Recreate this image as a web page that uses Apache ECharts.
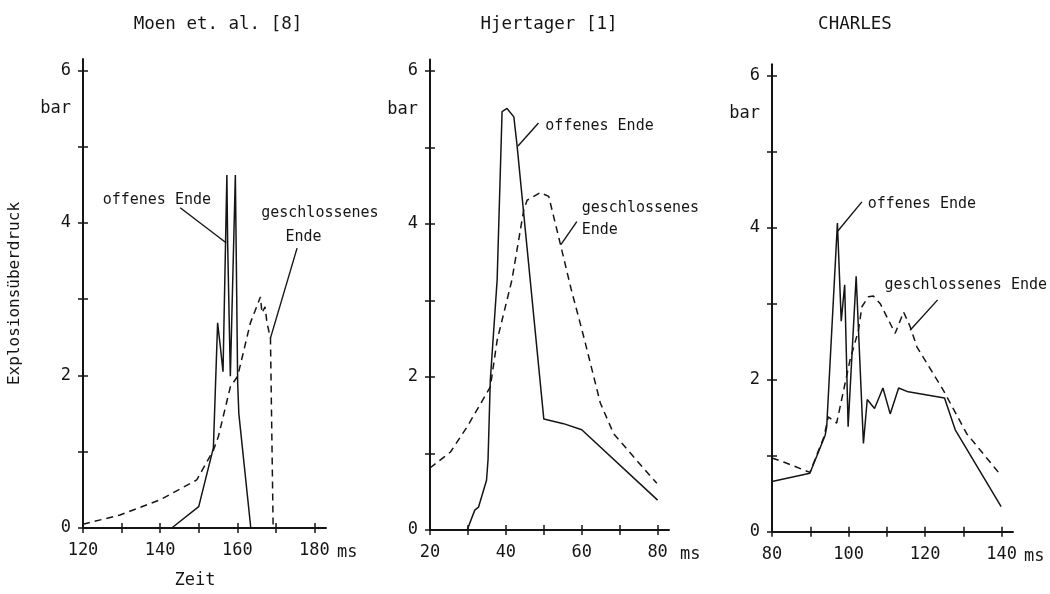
<!DOCTYPE html>
<html>
<head>
<meta charset="utf-8">
<script src="https://cdn.jsdelivr.net/npm/echarts@6/dist/echarts.min.js"></script>
<style>
html,body{margin:0;padding:0;background:#fff;}
#chart{width:1050px;height:594px;}
</style>
</head>
<body>
<div id="chart"></div>
<script>
// ---------- data ----------
const panelTitles = ['Moen et. al. [8]', 'Hjertager [1]', 'CHARLES'];
const xTickValues = [
  [120, 130, 140, 150, 160, 170, 180],
  [20, 30, 40, 50, 60, 70, 80],
  [80, 90, 100, 110, 120, 130, 140]
];
const xLabelValues = [
  [120, 140, 160, 180],
  [20, 40, 60, 80],
  [80, 100, 120, 140]
];
const yTickValues = [0, 1, 2, 3, 4, 5, 6];
const yLabelValues = [0, 2, 4, 5.5, 6];   // 5.5 carries the unit "bar"

// Moen et. al. [8]  (t in ms, p in bar)
const moenOffen = [
  [143.0, 0], [150.0, 0.28], [153.8, 1.05], [154.9, 2.69], [155.6, 2.38], [156.3, 2.05],
  [157.3, 4.63], [157.5, 3.74], [158.2, 1.99], [159.5, 4.63], [160.1, 1.90],
  [160.4, 1.50], [163.5, 0]
];
const moenGeschlossen = [
  [120.0, 0.05], [129.6, 0.17], [140.0, 0.37], [149.5, 0.63], [153.8, 1.02],
  [155.1, 1.20], [158.2, 1.85], [160.1, 1.99], [163.4, 2.69], [166.0, 3.03],
  [166.4, 2.82], [167.2, 2.90], [167.7, 2.69], [168.6, 2.49], [169.3, 0]
];

// Hjertager [1]
const hjertagerOffen = [
  [29.8, 0], [31.8, 0.26], [32.8, 0.30], [34.9, 0.65], [35.3, 0.92], [35.9, 1.96],
  [37.7, 3.27], [39.0, 5.47], [40.3, 5.51], [42.1, 5.40], [42.9, 5.05],
  [50.0, 1.45], [55.2, 1.39], [60.0, 1.31], [80.0, 0.39]
];
const hjertagerGeschlossen = [
  [20.0, 0.81], [25.4, 1.02], [29.8, 1.35], [35.9, 1.87], [37.7, 2.48],
  [41.6, 3.27], [44.7, 4.18], [45.6, 4.31], [49.1, 4.41], [51.3, 4.36],
  [54.3, 3.75], [57.2, 3.15], [60.5, 2.53], [64.9, 1.66], [68.4, 1.26],
  [73.6, 0.96], [79.8, 0.61]
];

// CHARLES
const charlesOffen = [
  [80.0, 0.66], [89.9, 0.77], [93.9, 1.27], [94.3, 1.38], [97.1, 4.06], [98.1, 2.77],
  [99.0, 3.25], [99.9, 1.38], [102.0, 3.36], [103.9, 1.16], [104.9, 1.74],
  [106.8, 1.62], [109.0, 1.89], [110.9, 1.55], [113.1, 1.89], [115.6, 1.84],
  [125.1, 1.76], [127.9, 1.34], [139.9, 0.33]
];
const charlesGeschlossen = [
  [80.0, 0.97], [83.4, 0.91], [89.9, 0.78], [93.6, 1.25], [94.7, 1.51], [96.9, 1.43],
  [100.4, 2.26], [102.6, 2.65], [103.5, 2.96], [105.2, 3.09], [106.5, 3.10],
  [108.3, 3.00], [110.4, 2.79], [112.2, 2.61], [114.4, 2.89], [116.1, 2.70],
  [117.9, 2.43], [124.8, 1.86], [130.9, 1.29], [139.7, 0.75]
];

// annotation texts and leader lines (data coordinates)
const annotTexts = [
  [{ t: 125.1, p: 4.30, text: 'offenes Ende' }],
  [{ t: 50.4, p: 5.28, text: 'offenes Ende' }],
  [{ t: 105.0, p: 4.31, text: 'offenes Ende' }]
];
const annotTextsClosed = [
  [{ t: 166.2, p: 4.13, text: 'geschlossenes' }, { t: 172.5, p: 3.82, text: 'Ende' }],
  [{ t: 60.0, p: 4.07, text: 'geschlossenes\nEnde' }],
  [{ t: 109.4, p: 3.25, text: 'geschlossenes Ende' }]
];
const leaderOpen = [
  [[145.2, 4.20], [157.1, 3.74]],
  [[43.2, 5.02], [48.6, 5.32]],
  [[97.1, 3.95], [103.5, 4.34]]
];
const leaderClosed = [
  [[168.6, 2.49], [175.5, 3.67]],
  [[54.5, 3.73], [58.7, 4.03]],
  [[116.1, 2.65], [123.3, 3.05]]
];

// ---------- layout ----------
const FONT = 'DejaVu Sans Mono';
const INK = '#151515';
const xRange = [[120, 183], [20, 83], [80, 143]];
const yMax = 6.15;
const grids = [
  { left: 83, top: 59, width: 243, height: 469 },
  { left: 430, top: 59.5, width: 239, height: 470.5 },
  { left: 772, top: 64.3, width: 241, height: 467.4 }
];
const titleCenters = [213, 544, 850];
const offenSeries = [moenOffen, hjertagerOffen, charlesOffen];
const geschSeries = [moenGeschlossen, hjertagerGeschlossen, charlesGeschlossen];

const xAxes = [], yAxes = [], series = [], titles = [];

function textPoints(list) {
  return list.map(a => ({ coord: [a.t, a.p], name: a.text }));
}

for (let i = 0; i < 3; i++) {
  titles.push({
    text: panelTitles[i], left: titleCenters[i], top: 10, textAlign: 'center',
    textStyle: { fontFamily: FONT, fontSize: 17.5, fontWeight: 'normal', color: INK }
  });
  // main x axis: outside ticks, labels, unit
  xAxes.push({
    type: 'value', gridIndex: i, min: xRange[i][0], max: xRange[i][1], position: 'bottom',
    axisLine: { onZero: false, lineStyle: { color: INK, width: 2 } },
    axisTick: { customValues: xTickValues[i], length: 5, lineStyle: { color: INK, width: 1.5 } },
    axisLabel: { customValues: xLabelValues[i], margin: 14, fontFamily: FONT, fontSize: 17, color: INK },
    splitLine: { show: false },
    name: '\n\nms', nameLocation: 'end', nameGap: 11,
    nameTextStyle: { fontFamily: FONT, fontSize: 17, color: INK, verticalAlign: 'middle', lineHeight: 25 }
  });
  // secondary x axis: inside half of the crossing ticks
  const sec = {
    type: 'value', gridIndex: i, min: xRange[i][0], max: xRange[i][1], position: 'bottom',
    axisLine: { show: false },
    axisTick: { inside: true, customValues: xTickValues[i], length: 5, lineStyle: { color: INK, width: 1.5 } },
    axisLabel: { show: false },
    splitLine: { show: false }
  };
  if (i === 0) {
    sec.name = 'Zeit';
    sec.nameLocation = 'middle';
    sec.nameGap = 44;
    sec.nameTextStyle = { fontFamily: FONT, fontSize: 17, color: INK, padding: [0, 19, 0, 0] };
  }
  xAxes.push(sec);

  const yMain = {
    type: 'value', gridIndex: i, min: 0, max: yMax, position: 'left',
    axisLine: { onZero: false, lineStyle: { color: INK, width: 2 } },
    axisTick: { customValues: yTickValues, length: 5, lineStyle: { color: INK, width: 1.5 } },
    axisLabel: {
      customValues: yLabelValues, margin: 12, fontFamily: FONT, fontSize: 17, color: INK,
      formatter: v => (Math.abs(v - 5.5) < 0.01 ? 'bar' : String(v))
    },
    splitLine: { show: false }
  };
  if (i === 0) {
    yMain.name = 'Explosionsüberdruck';
    yMain.nameLocation = 'middle';
    yMain.nameRotate = 90;
    yMain.nameGap = 60;
    yMain.nameTextStyle = { fontFamily: FONT, fontSize: 16, color: INK };
  }
  yAxes.push(yMain);
  yAxes.push({
    type: 'value', gridIndex: i, min: 0, max: yMax, position: 'left',
    axisLine: { show: false },
    axisTick: { inside: true, customValues: yTickValues, length: 5, lineStyle: { color: INK, width: 1.5 } },
    axisLabel: { show: false },
    splitLine: { show: false }
  });

  const labelStyle = {
    show: true, position: 'right', distance: 0, formatter: '{b}',
    fontFamily: FONT, fontSize: 15, color: INK, align: 'left', lineHeight: 22
  };
  series.push({
    type: 'line', xAxisIndex: 2 * i, yAxisIndex: 2 * i, data: offenSeries[i],
    showSymbol: false, symbol: 'none', silent: true,
    lineStyle: { color: INK, width: 1.5 },
    markLine: {
      silent: true, symbol: 'none', label: { show: false },
      lineStyle: { color: INK, width: 1.4, type: 'solid' },
      data: [[{ coord: leaderOpen[i][0] }, { coord: leaderOpen[i][1] }]]
    },
    markPoint: {
      silent: true, symbol: 'circle', symbolSize: 0, label: labelStyle,
      data: textPoints(annotTexts[i])
    }
  });
  series.push({
    type: 'line', xAxisIndex: 2 * i, yAxisIndex: 2 * i, data: geschSeries[i],
    showSymbol: false, symbol: 'none', silent: true,
    lineStyle: { color: INK, width: 1.5, type: [7, 5] },
    markLine: {
      silent: true, symbol: 'none', label: { show: false },
      lineStyle: { color: INK, width: 1.4, type: 'solid' },
      data: [[{ coord: leaderClosed[i][0] }, { coord: leaderClosed[i][1] }]]
    },
    markPoint: {
      silent: true, symbol: 'circle', symbolSize: 0, label: labelStyle,
      data: textPoints(annotTextsClosed[i])
    }
  });
}

const chart = echarts.init(document.getElementById('chart'), null, { renderer: 'canvas' });
chart.setOption({
  animation: false,
  backgroundColor: '#ffffff',
  title: titles,
  grid: grids,
  xAxis: xAxes,
  yAxis: yAxes,
  series: series
});
</script>
</body>
</html>
